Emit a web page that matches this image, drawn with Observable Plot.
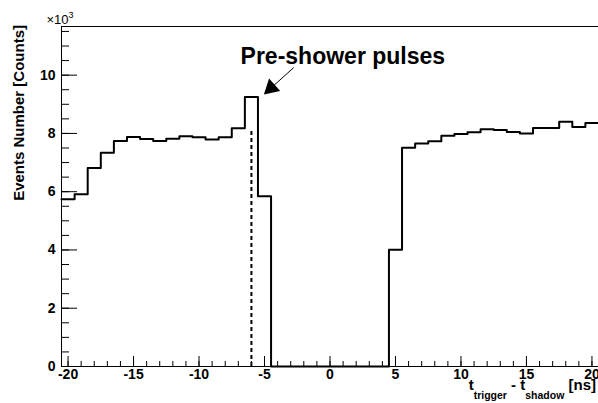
<!DOCTYPE html>
<html>
<head>
<meta charset="utf-8">
<script src="https://cdn.jsdelivr.net/npm/d3@7"></script>
<script src="https://cdn.jsdelivr.net/npm/@observablehq/plot@0.6"></script>
<style>
  html, body { margin: 0; padding: 0; background: #fff; }
  svg { display: block; }
</style>
</head>
<body>
<div id="chart"></div>
<script>
// Bin centres (ns) and counts per 1-ns bin
const binCenters = [-20,-19,-18,-17,-16,-15,-14,-13,-12,-11,-10,-9,-8,-7,-6,-5,-4,-3,-2,-1,0,1,2,3,4,5,6,7,8,9,10,11,12,13,14,15,16,17,18,19,20];
const counts = [5740,5910,6810,7340,7740,7880,7810,7740,7820,7900,7870,7790,7870,8180,9250,5840,
                0,0,0,0,0,0,0,0,0,
                4010,7510,7650,7730,7920,7980,8040,8140,8120,8050,8000,8190,8190,8400,8220,8360];
const binWidth = 1;

// Axis ticks
const xMajor = [-20,-15,-10,-5,0,5,10,15,20];
const xMinor = [-20,-19,-18,-17,-16,-15,-14,-13,-12,-11,-10,-9,-8,-7,-6,-5,-4,-3,-2,-1,0,1,2,3,4,5,6,7,8,9,10,11,12,13,14,15,16,17,18,19,20];
const yMajor = [0,2000,4000,6000,8000,10000];
const yMinor = [0,500,1000,1500,2000,2500,3000,3500,4000,4500,5000,5500,6000,6500,7000,7500,8000,8500,9000,9500,10000,10500,11000,11500];

// Annotation
const noteText = ["Pre-shower pulses"];
const noteAt = [{x: 0.98, y: 10640}];
const arrowTail = [{x: -2.77, y: 10260}];
const arrowHead = [{x: -4.5, y: 9560}];
const dashedMarker = [{x: -6, top: 8080}];

// Step outline table
const steps = binCenters.map((c, i) => ({x: c - binWidth / 2, y: counts[i]}));
steps.push({x: binCenters[binCenters.length - 1] + binWidth / 2, y: counts[counts.length - 1]});

const W = 598, H = 403, mL = 61, mR = 0, mT = 26, mB = 37;
const innerW = W - mL - mR, innerH = H - mT - mB;

const plot = Plot.plot({
  width: W,
  height: H,
  marginLeft: mL,
  marginRight: mR,
  marginTop: mT,
  marginBottom: mB,
  style: {fontFamily: "'Liberation Sans', Arial, Helvetica, sans-serif", fontWeight: "bold", color: "black", background: "white"},
  x: {type: "linear", domain: [-20.5, 20.5], axis: null},
  y: {type: "linear", domain: [0, 11670], axis: null},
  marks: [
    // ticks drawn inside the frame
    Plot.tickX(xMinor, {x: d => d, insetTop: innerH - 5, stroke: "black", strokeWidth: 1}),
    Plot.tickX(xMajor, {x: d => d, insetTop: innerH - 10, stroke: "black", strokeWidth: 1}),
    Plot.tickY(yMinor, {y: d => d, insetRight: innerW - 8, stroke: "black", strokeWidth: 1}),
    Plot.tickY(yMajor, {y: d => d, insetRight: innerW - 16, stroke: "black", strokeWidth: 1}),
    Plot.axisX(xMajor, {tickSize: 0, tickPadding: 3, fontSize: 14, fontWeight: "bold", tickFormat: d => String(d), label: null}),
    Plot.axisY(yMajor, {tickSize: 0, tickPadding: 6, fontSize: 14, fontWeight: "bold", tickFormat: d => String(d / 1000), label: null}),
    Plot.ruleX(dashedMarker, {x: "x", y1: () => 0, y2: "top", stroke: "black", strokeWidth: 2, strokeDasharray: "4,3"}),
    Plot.line(steps, {x: "x", y: "y", curve: "step-after", stroke: "black", strokeWidth: 2}),
    Plot.frame({stroke: "black", strokeWidth: 1}),
    Plot.text(noteAt, {x: "x", y: "y", text: (d, i) => noteText[i], fontSize: 23, fontWeight: "bold", textAnchor: "middle", fill: "black"}),
    Plot.link(arrowTail, {x1: "x", y1: "y", x2: (d, i) => arrowHead[i].x, y2: (d, i) => arrowHead[i].y, stroke: "black", strokeWidth: 1}),
    Plot.dot(arrowHead, {x: "x", y: "y", symbol: "triangle", r: 6.2, rotate: 228, fill: "black", stroke: "none"})
  ]
});

const svg = d3.select(plot);
// ×10^3 multiplier
const mult = svg.append("text")
  .attr("x", 60).attr("y", 24)
  .attr("font-family", "'Liberation Sans', Arial, sans-serif")
  .attr("font-weight", "normal")
  .attr("font-size", 13)
  .attr("fill", "black");
mult.append("tspan").text("×10");
mult.append("tspan").attr("font-size", 9).attr("dy", -6).text("3");

// Y axis title
svg.append("text")
  .attr("transform", "translate(24,25) rotate(-90)")
  .attr("text-anchor", "end")
  .attr("font-family", "'Liberation Sans', Arial, sans-serif")
  .attr("font-weight", "bold")
  .attr("font-size", 15)
  .attr("fill", "black")
  .text("Events Number [Counts]");

// X axis title with subscripts
const xt = svg.append("text")
  .attr("x", 596).attr("y", 390)
  .attr("text-anchor", "end")
  .attr("font-family", "'Liberation Sans', Arial, sans-serif")
  .attr("font-weight", "bold")
  .attr("font-size", 15)
  .attr("fill", "black");
xt.append("tspan").text("t");
xt.append("tspan").attr("font-size", 10.5).attr("dy", 9).text("trigger");
xt.append("tspan").attr("dy", -9).text("\u00A0-\u00A0t");
xt.append("tspan").attr("font-size", 10.5).attr("dy", 9).text("shadow");
xt.append("tspan").attr("dy", -9).text("\u00A0[ns]");

document.getElementById("chart").appendChild(plot);
</script>
</body>
</html>
